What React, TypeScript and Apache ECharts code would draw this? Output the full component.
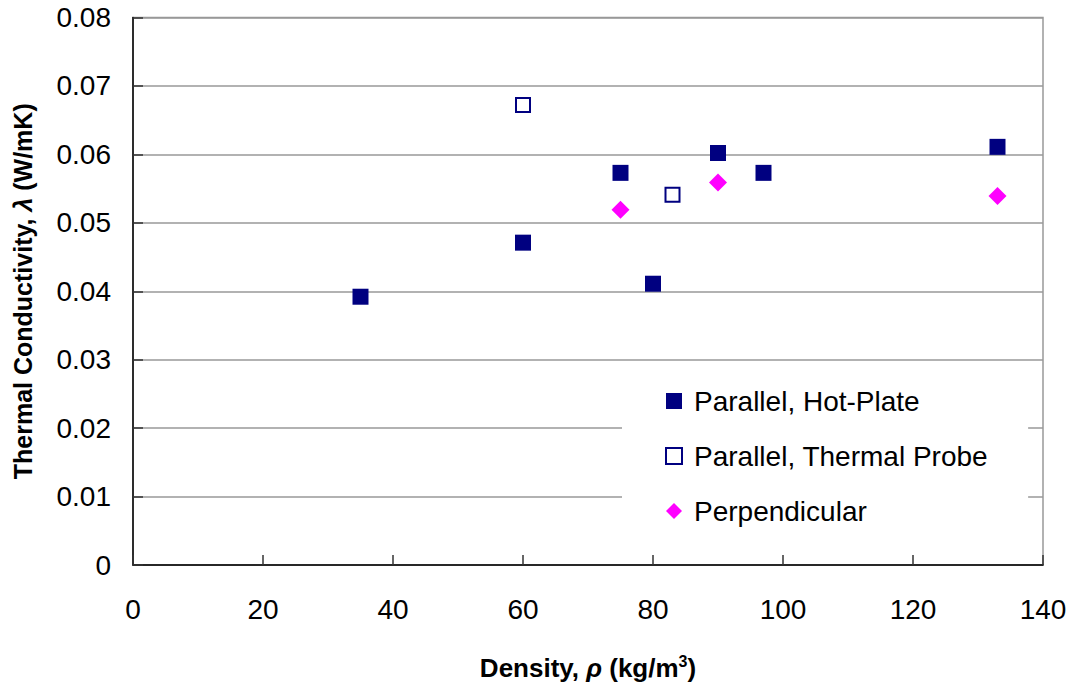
import React, { useEffect, useRef } from "react";
import * as echarts from "echarts";

const hotPlateDensity = [35, 60, 75, 80, 90, 97, 133];
const hotPlateK = [0.0392, 0.0471, 0.0573, 0.0411, 0.0602, 0.0573, 0.0611];
const probeDensity = [60, 83];
const probeK = [0.0672, 0.0541];
const perpDensity = [75, 90, 133];
const perpK = [0.0519, 0.0559, 0.0539];
const seriesNames = ["Parallel, Hot-Plate", "Parallel, Thermal Probe", "Perpendicular"];

const pairs = (xs: number[], ys: number[]) => xs.map((x, i) => [x, ys[i]]);

export default function App() {
  const ref = useRef<HTMLDivElement>(null);
  useEffect(() => {
    if (!ref.current) return;
    const chart = echarts.init(ref.current, null, { renderer: "svg" });
    const font = "'Liberation Sans', Arial, sans-serif";
    chart.setOption({
      animation: false,
      backgroundColor: "#ffffff",
      textStyle: { fontFamily: font },
      grid: {
        left: 133,
        right: 28,
        top: 17.5,
        bottom: 119,
        show: true,
        borderColor: "#999999",
        borderWidth: 1.5,
        containLabel: false,
        outerBoundsMode: "none",
      },
      legend: {
        orient: "vertical",
        left: 622,
        top: 375,
        padding: [12, 40, 12, 43],
        backgroundColor: "#ffffff",
        itemWidth: 16,
        itemHeight: 16,
        itemGap: 27,
        textStyle: {
          fontFamily: font,
          fontSize: 28,
          color: "#000000",
          padding: [0, 0, 0, 7],
          lineHeight: 28,
        },
        data: seriesNames,
      },
      xAxis: {
        type: "value",
        min: 0,
        max: 140,
        interval: 20,
        name: "Density, {i|ρ} (kg/m{sup|3})",
        nameLocation: "middle",
        nameGap: 88,
        nameTextStyle: {
          fontFamily: font,
          fontSize: 26,
          fontWeight: "bold",
          color: "#000000",
          rich: {
            i: { fontFamily: font, fontSize: 26, fontWeight: "bold", fontStyle: "italic", color: "#000" },
            sup: { fontFamily: font, fontSize: 16, fontWeight: "bold", color: "#000", verticalAlign: "top", padding: [0, 0, 14, 0] },
          },
        },
        axisLine: { show: true, lineStyle: { color: "#000000", width: 1.5 } },
        axisTick: { show: true, inside: true, length: 10, lineStyle: { color: "#333333", width: 1.5 } },
        axisLabel: { fontFamily: font, fontSize: 28, color: "#000000", margin: 30 },
        splitLine: { show: false },
      },
      yAxis: {
        type: "value",
        min: 0,
        max: 0.08,
        interval: 0.01,
        name: "Thermal Conductivity, {i|λ} (W/mK)",
        nameLocation: "middle",
        nameGap: 98,
        nameTextStyle: {
          fontFamily: font,
          fontSize: 25,
          fontWeight: "bold",
          color: "#000000",
          rich: {
            i: { fontFamily: font, fontSize: 25, fontWeight: "bold", fontStyle: "italic", color: "#000" },
          },
        },
        axisLine: { show: true, lineStyle: { color: "#000000", width: 1.5 } },
        axisTick: { show: true, inside: true, length: 10, lineStyle: { color: "#333333", width: 1.5 } },
        axisLabel: {
          fontFamily: font,
          fontSize: 28,
          color: "#000000",
          margin: 22,
          formatter: (v: number) => (v === 0 ? "0" : v.toFixed(2)),
        },
        splitLine: { show: true, lineStyle: { color: "#999999", width: 1.5 } },
      },
      series: [
        {
          name: seriesNames[0],
          type: "scatter",
          symbol: "rect",
          symbolSize: 16,
          itemStyle: { color: "#000080", opacity: 1 },
          data: pairs(hotPlateDensity, hotPlateK),
          z: 3,
        },
        {
          name: seriesNames[1],
          type: "scatter",
          symbol: "rect",
          symbolSize: 14,
          itemStyle: { color: "#ffffff", borderColor: "#000080", borderWidth: 2, opacity: 1 },
          data: pairs(probeDensity, probeK),
          z: 3,
        },
        {
          name: seriesNames[2],
          type: "scatter",
          symbol: "diamond",
          symbolSize: 18,
          itemStyle: { color: "#ff00ff", opacity: 1 },
          data: pairs(perpDensity, perpK),
          z: 3,
        },
      ],
    });
    return () => chart.dispose();
  }, []);
  return <div ref={ref} style={{ width: 1071, height: 684, position: "absolute", left: 0, top: 0 }} />;
}
